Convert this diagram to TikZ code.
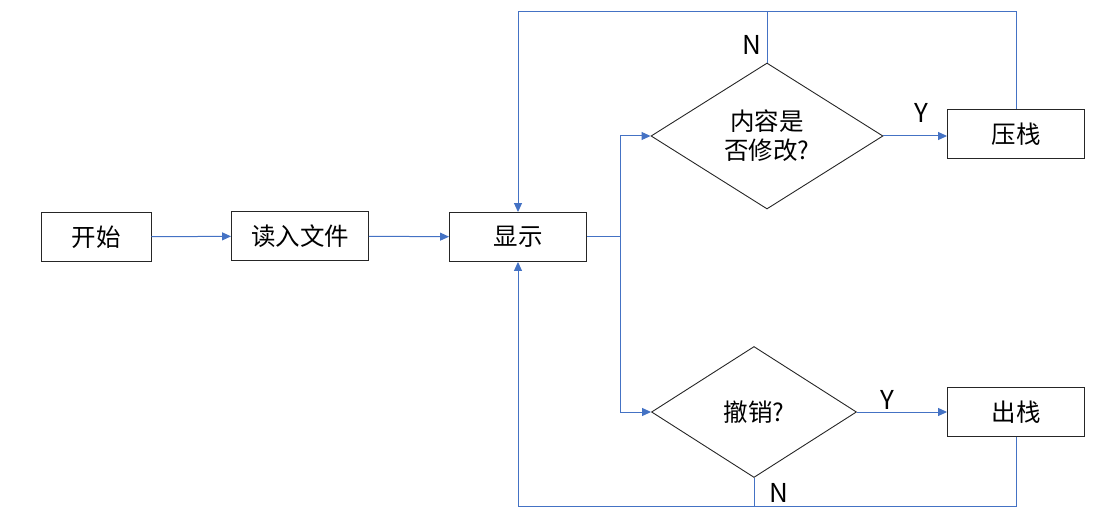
\documentclass[tikz,border=0pt]{standalone}
\usepackage{fontspec}
\setmainfont{Noto Sans CJK SC}
\usetikzlibrary{shapes.geometric,arrows.meta}
\definecolor{lineblue}{HTML}{4472C4}
\begin{document}
\begin{tikzpicture}[x=1pt,y=-1pt,
  txt/.style={font=\fontsize{24.5}{29}\selectfont},
  box/.style={txt,draw=black!85,line width=0.9pt,minimum width=137pt,minimum height=49pt,inner sep=0pt},
  dia/.style={txt,draw=black!85,line width=0.9pt,diamond,inner sep=0pt,align=center},
  ln/.style={draw=lineblue,line width=1pt},
  arr/.style={ln,-{Triangle[length=9pt,width=8pt]}},
  lbl/.style={font=\fontsize{26}{30}\selectfont,inner sep=0pt}]
\useasboundingbox (0,0) rectangle (1111,526);
\node[box,minimum width=110pt] (start) at (96,237) {开始};
\node[box] (read) at (300,236) {读入文件};
\node[box] (show) at (518,237) {显示};
\node[dia,minimum width=232pt,minimum height=146pt] (d1) at (767,136) {内容是\\否修改?};
\node[box] (push) at (1016,134) {压栈};
\node[dia,minimum width=205pt,minimum height=131pt] (d2) at (754,412) {撤销?};
\node[box] (pop) at (1016,412) {出栈};
\coordinate (split) at (620,237);
\coordinate (tl) at (518,12);
\coordinate (bl) at (518,506);
\draw[arr] (start) -- (read);
\draw[arr] (read) -- (show);
\draw[ln] (show.east) -- (split);
\draw[arr] (split) |- (d1.west);
\draw[arr] (split) |- (d2.west);
\draw[arr] (d1.east) -- (d1.east -| push.west);
\draw[arr] (d2.east) -- (d2.east -| pop.west);
\draw[ln] (push.north) -- (push.north |- tl) -- (tl);
\draw[ln] (d1.north) -- (d1.north |- tl);
\draw[arr] (tl) -- (show.north);
\draw[ln] (pop.south) -- (pop.south |- bl) -- (bl);
\draw[ln] (d2.south) -- (d2.south |- bl);
\draw[arr] (bl) -- (show.south);
\node[lbl] (n1) at (752,45) {N};
\node[lbl] (y1) at (921,113) {Y};
\node[lbl] (y2) at (887,400) {Y};
\node[lbl] (n2) at (779,493) {N};
\end{tikzpicture}
\end{document}
